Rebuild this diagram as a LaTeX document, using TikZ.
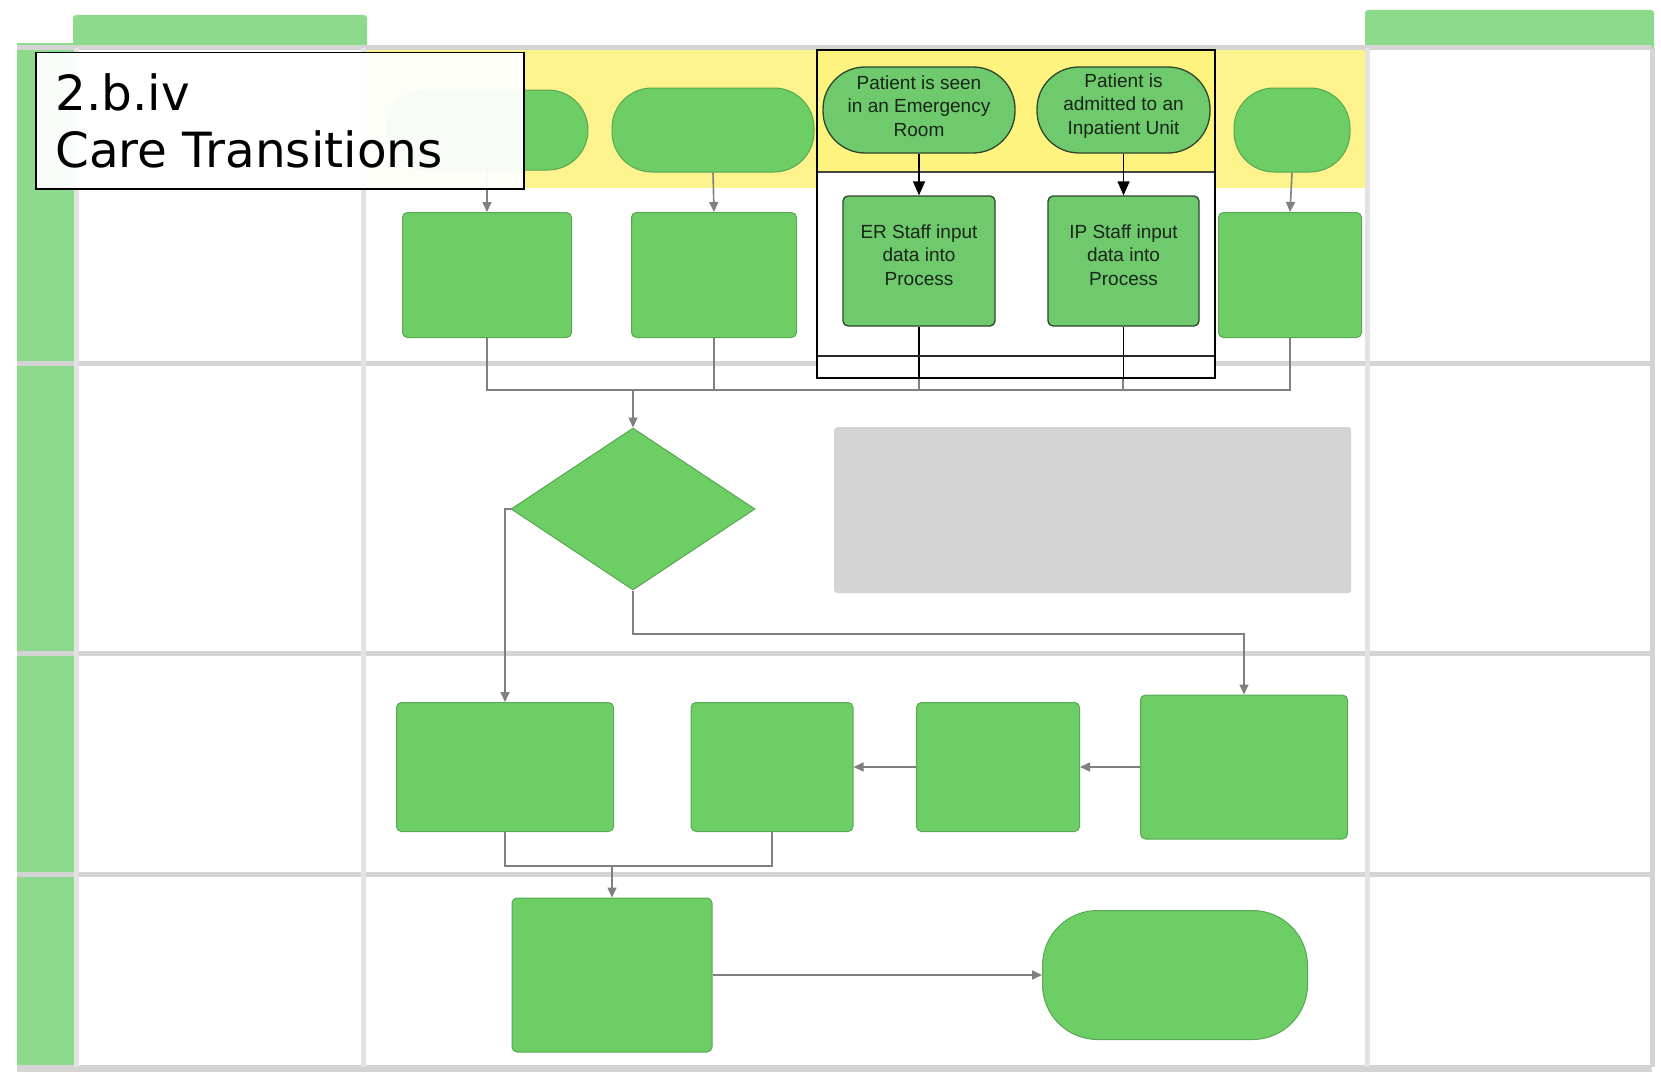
\documentclass[tikz,border=0pt]{standalone}
\usepackage{fontspec}
\setmainfont{Liberation Sans}
\newfontfamily\titlefont{DejaVu Sans}
\usetikzlibrary{arrows.meta,shapes.geometric}
\definecolor{lanegreen}{RGB}{142,218,140}
\definecolor{boxgreen}{RGB}{108,206,100}
\definecolor{boxedge}{RGB}{88,168,84}
\definecolor{insetgreen}{RGB}{110,202,108}
\definecolor{insetedge}{RGB}{45,70,45}
\definecolor{bandyellow}{RGB}{252,243,140}
\definecolor{insetyellow}{RGB}{255,243,128}
\definecolor{sepgray}{RGB}{212,212,212}
\definecolor{vsepgray}{RGB}{226,226,226}
\definecolor{notegray}{RGB}{212,212,212}
\definecolor{flowgray}{RGB}{128,128,128}
\definecolor{inktext}{RGB}{25,38,25}
\definecolor{insetsep}{RGB}{70,70,60}
\definecolor{insetrule}{RGB}{40,40,40}
\begin{document}
\begin{tikzpicture}[x=1pt,y=-1pt,
  bgbox/.style={fill=boxgreen, draw=boxedge, line width=1pt, rounded corners=5pt, inner sep=0pt},
  bgoval/.style={fill=boxgreen, draw=boxedge, line width=1pt, inner sep=0pt},
  conn/.style={draw=flowgray, line width=1.6pt},
  flowarrow/.style={conn, -{Triangle[length=10pt,width=9pt]}},
  inoval/.style={fill=insetgreen, draw=insetedge, line width=1.3pt, rounded corners=42pt, inner sep=0pt},
  inbox/.style={fill=insetgreen, draw=insetedge, line width=1.3pt, rounded corners=5pt, inner sep=0pt},
  intext/.style={align=center, text=inktext, font=\fontsize{19}{23.3}\selectfont, inner sep=0pt},
  inline/.style={draw=black, line width=1.4pt},
  inarrow/.style={inline, -{Triangle[length=14pt,width=12pt]}},
  titletext/.style={anchor=base west, inner sep=0pt, font=\titlefont\fontsize{48.5}{57}\selectfont}
]
\useasboundingbox (0,0) rectangle (1661,1081);
\fill[white] (0,0) rectangle (1661,1081);

% ---- background swim-lane frame ----
\fill[lanegreen, rounded corners=3pt] (73,15) rectangle (367,50);
\fill[lanegreen, rounded corners=3pt] (1365,10) rectangle (1654,50);
\fill[lanegreen] (17,43) rectangle (76,1067);
\fill[bandyellow] (365,48) rectangle (1367,188);
\foreach \yy in {48,363,653,874} {
  \draw[sepgray, line width=5pt] (17,\yy) -- (1652,\yy);
}
\draw[sepgray, line width=7pt] (17,1068) -- (1652,1068);
\foreach \xx in {76,363,1367} {
  \draw[vsepgray, line width=5pt] (\xx,48) -- (\xx,1067);
}
\draw[sepgray, line width=5pt] (1652,48) -- (1652,1067);

% ---- lane 1 ----
\node[bgoval, rounded corners=40pt, minimum width=202, minimum height=80] (o1) at (487,130) {};
\node[bgoval, rounded corners=40pt, minimum width=202, minimum height=84] (o2) at (713,130) {};
\node[bgoval, rounded corners=40pt, minimum width=116, minimum height=84] (o3) at (1292,130) {};
\node[bgbox, minimum width=169, minimum height=125] (b1) at (487,275) {};
\node[bgbox, minimum width=165, minimum height=125] (b2) at (714,275) {};
\node[bgbox, minimum width=143, minimum height=125] (b3) at (1290,275) {};
\draw[flowarrow] (o1.south) -- (b1.north);
\draw[flowarrow] (o2.south) -- (b2.north);
\draw[flowarrow] (o3.south) -- (b3.north);
\coordinate (mL) at (487,390);
\coordinate (mR) at (1290,390);
\coordinate (mD) at (633,390);
\coordinate (erfoot) at (919,370);
\coordinate (ipfoot) at (1123,370);
\draw[conn] (b1.south) -- (mL) -- (mR) -- (b3.south);
\draw[conn] (b2.south) -- (b2.south |- mL);
\draw[conn] (erfoot) -- (erfoot |- mL);
\draw[conn] (ipfoot) -- (ipfoot |- mL);

% ---- lane 2 ----
\node[diamond, fill=boxgreen, draw=boxedge, line width=1pt, minimum width=244, minimum height=162, inner sep=0pt] (dia) at (633,509) {};
\draw[flowarrow] (mD) -- (dia.north);
\node[fill=notegray, rounded corners=3pt, minimum width=517, minimum height=166, anchor=north west, inner sep=0pt] (note) at (834,427) {};

% ---- lane 3 ----
\node[bgbox, minimum width=217, minimum height=129] (bA) at (505,767) {};
\node[bgbox, minimum width=162, minimum height=129] (bB) at (772,767) {};
\node[bgbox, minimum width=163, minimum height=129] (bC) at (998,767) {};
\node[bgbox, minimum width=207, minimum height=144] (bD) at (1244,767) {};
\coordinate (rb) at (633,634);
\draw[flowarrow] (dia.west) -| (bA.north);
\draw[flowarrow] (dia.south) -- (rb) -| (bD.north);
\draw[flowarrow] (bD.west) -- (bC.east);
\draw[flowarrow] (bC.west) -- (bB.east);
\coordinate (jA) at (505,866);
\coordinate (jB) at (772,866);
\coordinate (jE) at (612,866);
\draw[conn] (bA.south) -- (jA) -- (jB) -- (bB.south);

% ---- lane 4 ----
\node[bgbox, minimum width=200, minimum height=154] (bE) at (612,975) {};
\node[bgoval, rounded corners=55pt, minimum width=265, minimum height=129] (tF) at (1175,975) {};
\draw[flowarrow] (jE) -- (bE.north);
\draw[flowarrow] (bE.east) -- (tF.west);

% ---- title box ----
\node[draw=black, line width=1.5pt, fill=white, fill opacity=0.95, minimum width=488, minimum height=136, anchor=north west, inner sep=0pt] (title) at (35,52) {};
\node[titletext] (t1) at (55,110) {2.b.iv};
\node[titletext] (t2) at (55,167) {Care Transitions};

% ---- magnified inset ----
\fill[white] (817,50) rectangle (1215,378);
\fill[insetyellow] (817,50) rectangle (1215,172);
\draw[insetsep, line width=1.8pt] (817,172) -- (1215,172);
\node[inoval, minimum width=192, minimum height=86] (ier) at (919,110) {};
\node[inoval, minimum width=173, minimum height=86] (iip) at (1123.5,110) {};
\node[inbox, minimum width=152, minimum height=130] (ierbox) at (919,261) {};
\node[inbox, minimum width=151, minimum height=130] (iipbox) at (1123.5,261) {};
\node[intext] (iertext) at (919,106) {Patient is seen\\in an Emergency\\Room};
\node[intext] (iiptext) at (1123.5,106) {Patient is\\admitted to an\\Inpatient Unit};
\node[intext] (ierboxtext) at (919,255) {ER Staff input\\data into\\Process};
\node[intext] (iipboxtext) at (1123.5,255) {IP Staff input\\data into\\Process};
\draw[inarrow] (ier.south) -- (ierbox.north);
\draw[inarrow] (iip.south) -- (iipbox.north);
\coordinate (ierend) at (919,378);
\coordinate (iipend) at (1123.5,378);
\draw[inline] (ierbox.south) -- (ierend);
\draw[inline] (iipbox.south) -- (iipend);
\coordinate (ihl) at (817,356);
\coordinate (ihr) at (1215,356);
\draw[insetrule, line width=2pt] (ihl) -- (ihr);
\draw[black, line width=2pt] (817,50) rectangle (1215,378);
\end{tikzpicture}
\end{document}
